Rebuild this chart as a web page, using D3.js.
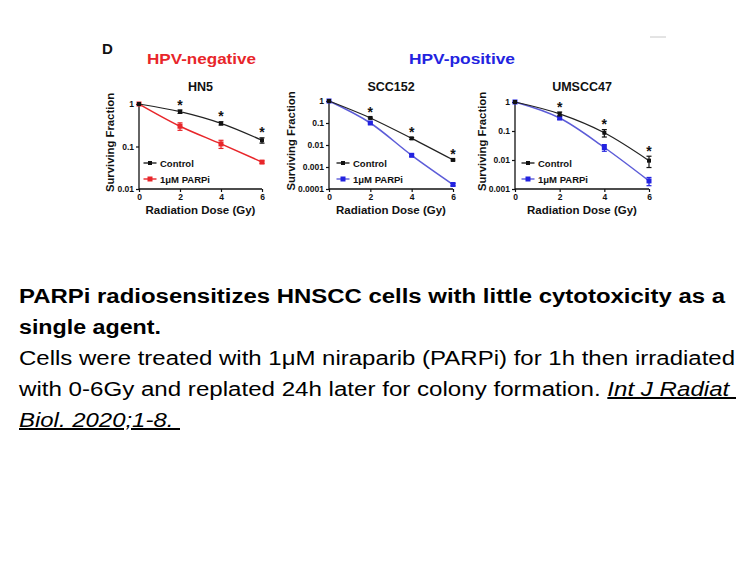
<!DOCTYPE html>
<html>
<head>
<meta charset="utf-8">
<script src="https://cdn.jsdelivr.net/npm/d3@7"></script>
<style>
  html, body { margin: 0; padding: 0; background: #fff; }
  svg { display: block; font-family: "Liberation Sans", Arial, sans-serif; }
</style>
</head>
<body>
<svg id="chart" width="756" height="567"></svg>
<script>
// ---------- data ----------
const doses = [0, 2, 4, 6];
const xTicks = [0, 2, 4, 6];
const panelNames = ["HN5", "SCC152", "UMSCC47"];
const groupNames = ["HPV-negative", "HPV-positive"];
const seriesNames = ["Control", "1\u03bcM PARPi"];

const hn5Control = [1, 0.66, 0.35, 0.14];
const hn5ControlErr = [0, 0.06, 0.03, 0.02];
const hn5Parpi = [1, 0.30, 0.115, 0.043];
const hn5ParpiErr = [0, 0.06, 0.025, 0.003];

const scc152Control = [1, 0.17, 0.02, 0.0021];
const scc152ControlErr = [0, 0.015, 0.002, 0.0002];
const scc152Parpi = [1, 0.10, 0.0034, 0.00016];
const scc152ParpiErr = [0, 0.01, 0.0004, 0.00002];

const umControl = [1, 0.39, 0.087, 0.0095];
const umControlErr = [0, 0.06, 0.025, 0.004];
const umParpi = [1, 0.28, 0.027, 0.0019];
const umParpiErr = [0, 0.03, 0.007, 0.0006];

const hn5YTicks = [0.01, 0.1, 1];
const scc152YTicks = [0.0001, 0.001, 0.01, 0.1, 1];
const umYTicks = [0.001, 0.01, 0.1, 1];
const sigDoses = [2, 4, 6];

const captionTitle = ["PARPi radiosensitizes HNSCC cells with little cytotoxicity as a", "single agent."];

// ---------- drawing ----------
const svg = d3.select("#chart");
const BLACK = "#111";
const RED = "#e8262a";
const BLUE = "#2323e0";
const BLUE_LINE = "#5c5cd8";

const panels = [
  { name: panelNames[0], x0: 139, x1: 262, yTop: 104, yBot: 189, yTicks: hn5YTicks,
    ctrl: hn5Control, ctrlErr: hn5ControlErr, trt: hn5Parpi, trtErr: hn5ParpiErr,
    color: RED, lineColor: RED, ylabX: 114, legX: 150 },
  { name: panelNames[1], x0: 329, x1: 453, yTop: 101, yBot: 189, yTicks: scc152YTicks,
    ctrl: scc152Control, ctrlErr: scc152ControlErr, trt: scc152Parpi, trtErr: scc152ParpiErr,
    color: BLUE, lineColor: BLUE_LINE, ylabX: 295, legX: 343 },
  { name: panelNames[2], x0: 515, x1: 649, yTop: 102, yBot: 189, yTicks: umYTicks,
    ctrl: umControl, ctrlErr: umControlErr, trt: umParpi, trtErr: umParpiErr,
    color: BLUE, lineColor: BLUE_LINE, ylabX: 486, legX: 528 }
];

// header
svg.append("text").attr("x", 102).attr("y", 54).attr("font-size", 15).attr("font-weight", "bold")
  .attr("fill", BLACK).text("D");
svg.append("text").attr("x", 147).attr("y", 64).attr("font-size", 15.5)
  .attr("textLength", 109).attr("lengthAdjust", "spacingAndGlyphs")
  .attr("font-weight", "bold").attr("fill", RED).text(groupNames[0]);
svg.append("text").attr("x", 409).attr("y", 64).attr("font-size", 15.5)
  .attr("textLength", 106).attr("lengthAdjust", "spacingAndGlyphs")
  .attr("font-weight", "bold").attr("fill", BLUE).text(groupNames[1]);
svg.append("line").attr("x1", 650).attr("x2", 666).attr("y1", 37).attr("y2", 37)
  .attr("stroke", "#c8c8c8").attr("stroke-width", 1);

panels.forEach(p => {
  const g = svg.append("g");
  const x = d3.scaleLinear().domain([0, 6]).range([p.x0, p.x1]);
  const y = d3.scaleLog().domain([p.yTicks[0], 1]).range([p.yBot, p.yTop]);

  // axes
  const xAxis = d3.axisBottom(x).tickValues(xTicks).tickSize(3).tickPadding(2).tickFormat(d3.format("d"));
  const yAxis = d3.axisLeft(y).tickValues(p.yTicks).tickSize(3).tickPadding(2).tickFormat(d => String(+d));
  const gx = g.append("g").attr("transform", `translate(0,${p.yBot})`).call(xAxis);
  const gy = g.append("g").attr("transform", `translate(${p.x0},0)`).call(yAxis);
  [gx, gy].forEach(a => {
    a.select(".domain").attr("stroke", BLACK).attr("stroke-width", 1.3);
    a.selectAll(".tick line").attr("stroke", BLACK).attr("stroke-width", 1.2);
    a.selectAll(".tick text").attr("font-size", 8.5).attr("font-weight", "bold").attr("fill", BLACK)
      .attr("font-family", "Liberation Sans, Arial, sans-serif");
  });
  gx.select(".domain").attr("d", `M${p.x0},0H${p.x1}`);
  gy.select(".domain").attr("d", `M0,${p.yTop}V${p.yBot}`);

  // titles
  g.append("text").attr("x", (p.x0 + p.x1) / 2).attr("y", 91).attr("text-anchor", "middle")
    .attr("font-size", 12.5).attr("font-weight", "bold").attr("fill", BLACK).text(p.name);
  g.append("text").attr("x", (p.x0 + p.x1) / 2).attr("y", 214).attr("text-anchor", "middle")
    .attr("font-size", 11.5).attr("font-weight", "bold").attr("fill", BLACK).text("Radiation Dose (Gy)");
  g.append("text").attr("transform", `translate(${p.ylabX},${(p.yTop + p.yBot) / 2 - 4}) rotate(-90)`)
    .attr("text-anchor", "middle").attr("font-size", 11.3).attr("font-weight", "bold").attr("fill", BLACK)
    .text("Surviving Fraction");

  const line = d3.line().x((d, i) => x(doses[i])).y(d => y(d)).curve(d3.curveMonotoneX);

  function drawSeries(vals, errs, color, lineColor, size, lw) {
    g.append("path").datum(vals).attr("d", line).attr("fill", "none")
      .attr("stroke", lineColor).attr("stroke-width", lw);
    const pts = g.append("g");
    vals.forEach((v, i) => {
      const cx = x(doses[i]);
      if (errs[i] > 0) {
        const y1 = y(v + errs[i]), y2 = y(Math.max(v - errs[i], 1e-6));
        pts.append("line").attr("x1", cx).attr("x2", cx).attr("y1", y1).attr("y2", y2)
          .attr("stroke", color).attr("stroke-width", 1.2);
        [y1, y2].forEach(yy => pts.append("line").attr("x1", cx - 2.5).attr("x2", cx + 2.5)
          .attr("y1", yy).attr("y2", yy).attr("stroke", color).attr("stroke-width", 1.2));
      }
      pts.append("rect").attr("x", cx - size / 2).attr("y", y(v) - size / 2)
        .attr("width", size).attr("height", size).attr("fill", color);
    });
  }
  drawSeries(p.trt, p.trtErr, p.color, p.lineColor, 5, 1.5);
  drawSeries(p.ctrl, p.ctrlErr, BLACK, "#222", 4, 1.2);

  // significance asterisks
  sigDoses.forEach(dv => {
    const i = doses.indexOf(dv);
    const top = y(p.ctrl[i] + p.ctrlErr[i]);
    g.append("text").attr("x", x(dv)).attr("y", top - 0.5).attr("text-anchor", "middle")
      .attr("font-size", 14).attr("font-weight", "bold").attr("fill", BLACK).text("*");
  });

  // legend
  const legRows = [
    { label: seriesNames[0], color: BLACK, lc: "#222", size: 4, y: 163 },
    { label: seriesNames[1], color: p.color, lc: p.lineColor, size: 5, y: 179 }
  ];
  legRows.forEach(r => {
    g.append("line").attr("x1", p.legX - 6.5).attr("x2", p.legX + 6.5).attr("y1", r.y).attr("y2", r.y)
      .attr("stroke", r.lc).attr("stroke-width", 1.4);
    g.append("rect").attr("x", p.legX - r.size / 2).attr("y", r.y - r.size / 2)
      .attr("width", r.size).attr("height", r.size).attr("fill", r.color);
    g.append("text").attr("x", p.legX + 10).attr("y", r.y + 3.5).attr("font-size", 9.5)
      .attr("font-weight", "bold").attr("fill", BLACK).text(r.label);
  });
});

// ---------- caption ----------
const cap = svg.append("g").attr("font-size", 20).attr("fill", "#000");
cap.append("text").attr("x", 19).attr("y", 303).attr("font-weight", "bold")
  .attr("textLength", 706).attr("lengthAdjust", "spacingAndGlyphs").text(captionTitle[0]);
cap.append("text").attr("x", 19).attr("y", 334).attr("font-weight", "bold")
  .attr("textLength", 142).attr("lengthAdjust", "spacingAndGlyphs").text(captionTitle[1]);
cap.append("text").attr("x", 19).attr("y", 365)
  .attr("textLength", 716).attr("lengthAdjust", "spacingAndGlyphs")
  .text("Cells were treated with 1\u03bcM niraparib (PARPi) for 1h then irradiated");
const l4 = cap.append("text").attr("x", 19).attr("y", 396).style("white-space", "pre")
  .attr("textLength", 717).attr("lengthAdjust", "spacingAndGlyphs");
l4.append("tspan").text("with 0-6Gy and replated 24h later for colony formation. ");
l4.append("tspan").attr("font-style", "italic").attr("text-decoration", "underline").text("Int J Radiat ");
cap.append("text").attr("x", 19).attr("y", 427).style("white-space", "pre")
  .attr("font-style", "italic").attr("text-decoration", "underline")
  .attr("textLength", 161).attr("lengthAdjust", "spacingAndGlyphs")
  .text("Biol. 2020;1-8. ");
</script>
</body>
</html>
